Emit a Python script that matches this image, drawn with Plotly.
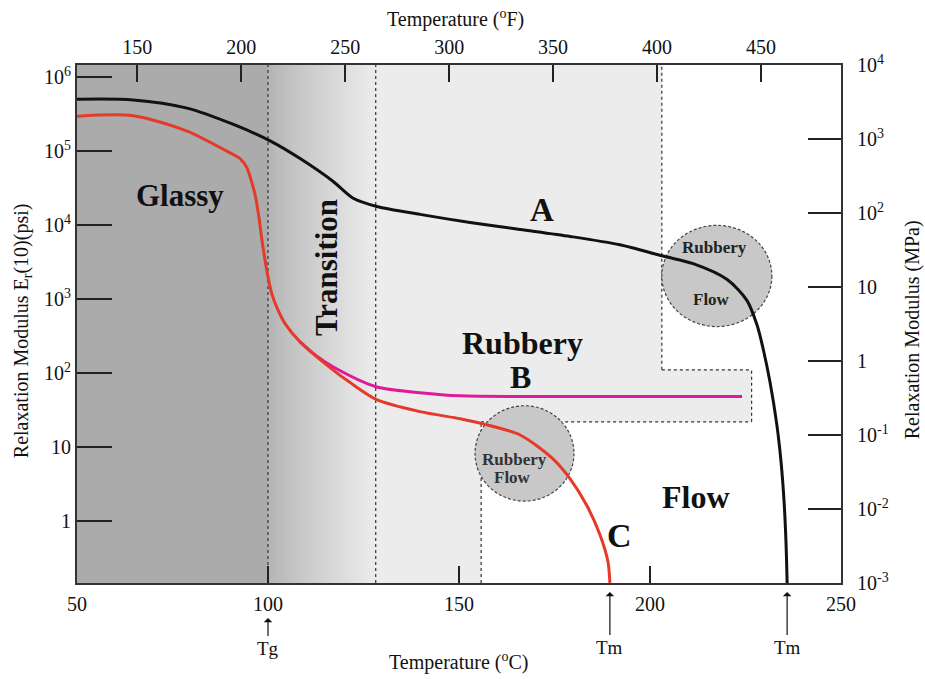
import plotly.graph_objects as go

# ---------------- data ----------------
# Curve A (black): temperature in °C, relaxation modulus in psi
temp_A = [50.0, 64.7, 78.8, 90.8, 100.8, 108.4, 117.0, 122.3, 128.5, 139.8, 152.9,
          166.0, 179.1, 192.1, 203.4, 211.3, 220.2, 225.4, 228.0, 229.6, 231.4, 233.2,
          234.3, 235.1, 235.6, 235.9]
mod_A = [5.0e5, 4.9e5, 3.8e5, 2.3e5, 1.35e5, 7.9e4, 3.9e4, 2.3e4, 1.78e4, 1.39e4, 1.08e4,
         8.7e3, 7.0e3, 5.4e3, 3.8e3, 3.0e3, 1.83e3, 950, 447, 214, 76, 20,
         6.3, 1.82, 0.52, 0.145]

# Curve B (magenta)
temp_B = [108.4, 112.8, 117.0, 128.3, 139.8, 150.3, 186.9, 224.1]
mod_B = [263, 168, 121, 65, 54, 49, 48, 48]

# Curve C (red)
temp_C = [50.0, 64.7, 78.8, 89.3, 92.7, 94.5, 95.8, 96.6, 97.6, 98.4, 99.2, 100.0, 101.0,
          102.6, 104.5, 108.4, 117.0, 121.5, 128.3, 139.8, 150.3, 156.3, 166.0, 174.6,
          179.1, 183.5, 186.9, 189.0, 189.5]
mod_C = [2.95e5, 3.0e5, 1.86e5, 9.9e4, 7.9e4, 5.9e4, 3.7e4, 2.6e4, 1.3e4, 6.3e3, 3.4e3,
         2.0e3, 1.17e3, 710, 460, 263, 110, 74, 44, 30, 24, 20.5, 14.5, 6.9,
         3.7, 1.6, 0.65, 0.28, 0.145]

# region boundaries (°C) and levels (psi)
tg_c = 100.0
transition_end_c = 128.2
rubbery_end_c = 203.1
rubbery_step_c = 226.6
lower_step_c = 155.8
step_hi_psi = 110
step_lo_psi = 21.8
tm_C = 189.5
tm_A = 235.9

x_ticks_c = [50, 100, 150, 200, 250]
x_ticks_f = [150, 200, 250, 300, 350, 400, 450]
y_ticks_psi = [1, 10, 100, 1e3, 1e4, 1e5, 1e6]
y_ticktext_psi = ["1", "10", "10<sup>2</sup>", "10<sup>3</sup>", "10<sup>4</sup>",
                  "10<sup>5</sup>", "10<sup>6</sup>"]
y_ticks_mpa = [1e-3, 1e-2, 1e-1, 1, 10, 100, 1e3, 1e4]
y_ticktext_mpa = ["10<sup>-3</sup>", "10<sup>-2</sup>", "10<sup>-1</sup>", "1", "10",
                  "10<sup>2</sup>", "10<sup>3</sup>", "10<sup>4</sup>"]

Y_TOP = 1.45e6
Y_BOT = 0.145
FONT = "Liberation Serif"

fig = go.Figure()

# ---------------- background regions (shapes, below traces) ----------------
shapes = []
# glassy
shapes.append(dict(type="rect", xref="x", yref="paper", x0=50, x1=tg_c, y0=0, y1=1,
                   fillcolor="#ababab", line=dict(width=0), layer="below"))
# transition gradient: stacked strips, each running to the end of the zone (no seams)
n = 70
for i in range(n):
    a = tg_c + (transition_end_c - tg_c) * i / n
    t = (i + 0.5) / n
    g = int(round(179 + (236 - 179) * t ** 0.85))
    shapes.append(dict(type="rect", xref="x", yref="paper", x0=a, x1=transition_end_c + 0.3,
                       y0=0, y1=1, fillcolor=f"rgb({g},{g},{g})", line=dict(width=0),
                       layer="below"))
# rubbery
rub = "#ececec"
shapes.append(dict(type="rect", xref="x", yref="paper", x0=transition_end_c, x1=lower_step_c,
                   y0=0, y1=1, fillcolor=rub, line=dict(width=0), layer="below"))
shapes.append(dict(type="rect", xref="x", yref="y", x0=lower_step_c - 0.2, x1=rubbery_end_c,
                   y0=step_lo_psi, y1=Y_TOP, fillcolor=rub, line=dict(width=0), layer="below"))
shapes.append(dict(type="rect", xref="x", yref="y", x0=rubbery_end_c - 0.2, x1=rubbery_step_c,
                   y0=step_lo_psi, y1=step_hi_psi, fillcolor=rub, line=dict(width=0), layer="below"))

dash_line = dict(color="#333333", width=1.2, dash="3px,3px")
shapes.append(dict(type="line", xref="x", yref="paper", x0=tg_c, x1=tg_c, y0=0, y1=1,
                   line=dash_line, layer="below"))
shapes.append(dict(type="line", xref="x", yref="paper", x0=transition_end_c, x1=transition_end_c,
                   y0=0, y1=1, line=dash_line, layer="below"))
shapes.append(dict(type="line", xref="x", yref="y", x0=rubbery_end_c, x1=rubbery_end_c,
                   y0=step_hi_psi, y1=Y_TOP, line=dash_line, layer="below"))
shapes.append(dict(type="line", xref="x", yref="y", x0=rubbery_end_c, x1=rubbery_step_c,
                   y0=step_hi_psi, y1=step_hi_psi, line=dash_line, layer="below"))
shapes.append(dict(type="line", xref="x", yref="y", x0=rubbery_step_c, x1=rubbery_step_c,
                   y0=step_lo_psi, y1=step_hi_psi, line=dash_line, layer="below"))
shapes.append(dict(type="line", xref="x", yref="y", x0=lower_step_c, x1=rubbery_step_c,
                   y0=step_lo_psi, y1=step_lo_psi, line=dash_line, layer="below"))
shapes.append(dict(type="line", xref="x", yref="y", x0=lower_step_c, x1=lower_step_c,
                   y0=Y_BOT, y1=step_lo_psi, line=dash_line, layer="below"))

# rubbery-flow ellipses
ell_line = dict(color="#444444", width=1.2, dash="3px,2px")
shapes.append(dict(type="circle", xref="x", yref="y", x0=203.1, x1=231.9, y0=423, y1=9886,
                   fillcolor="#c8c8c8", line=ell_line, layer="below"))
shapes.append(dict(type="circle", xref="x", yref="y", x0=154.2, x1=180.1, y0=1.85, y1=36,
                   fillcolor="#c8c8c8", line=ell_line, layer="below"))

# ---------------- curves ----------------
fig.add_trace(go.Scatter(x=temp_B, y=mod_B, mode="lines", hoverinfo="skip", showlegend=False,
                         line=dict(color="#e0199a", width=3, shape="spline", smoothing=0.8)))
fig.add_trace(go.Scatter(x=temp_C, y=mod_C, mode="lines", hoverinfo="skip", showlegend=False,
                         line=dict(color="#e53a2a", width=3, shape="spline", smoothing=0.8)))
fig.add_trace(go.Scatter(x=temp_A, y=mod_A, mode="lines", hoverinfo="skip", showlegend=False,
                         line=dict(color="#111111", width=3, shape="spline", smoothing=0.8)))
# carrier trace for secondary axes
fig.add_trace(go.Scatter(x=[300], y=[1], xaxis="x2", yaxis="y2", mode="markers",
                         marker=dict(opacity=0), hoverinfo="skip", showlegend=False))

# ---------------- annotations ----------------
ann = []
def label(text, x, y, size, xref="x", yref="paper", angle=0, color="#111111", bold=True):
    ann.append(dict(text=f"<b>{text}</b>" if bold else text, x=x, y=y, xref=xref, yref=yref,
                    xanchor="center", yanchor="middle",
                    showarrow=False, textangle=angle,
                    font=dict(family=FONT, size=size, color=color)))

label("Glassy", 77.0, 0.749, 31)
label("Transition", 115.2, 0.608, 31, angle=-90)
label("A", 171.7, 0.720, 33)
label("Rubbery", 166.5, 0.463, 32)
label("B", 166.0, 0.398, 32)
label("Flow", 212.0, 0.166, 32)
label("C", 192.1, 0.091, 34)
label("Rubbery", 217.0, 0.647, 17, color="#222222")
label("Flow", 216.0, 0.548, 17, color="#222222")
label("Rubbery", 164.4, 0.239, 17, color="#333333")
label("Flow", 164.1, 0.203, 17, color="#333333")

# axis titles
label("Temperature (<sup>o</sup>F)", 0.495, 1.089, 20, xref="paper", bold=False)
label("Temperature (<sup>o</sup>C)", 0.499, -0.1525, 20, xref="paper", bold=False)
label("Relaxation Modulus E<sub>r</sub>(10)(psi)", -0.072, 0.488, 20, xref="paper",
      angle=-90, bold=False)
label("Relaxation Modulus (MPa)", 1.093, 0.488, 20, xref="paper", angle=-90, bold=False)

# Tg / Tm markers
for xv, txt, yhead, ay in [(tg_c, "Tg", -0.0676, 30), (tm_C, "Tm", -0.0174, 55),
                           (tm_A, "Tm", -0.0174, 55)]:
    ann.append(dict(x=xv, y=yhead, xref="x", yref="paper", text=txt, showarrow=True,
                    ax=0, ay=ay, arrowhead=1, arrowsize=1.2, arrowwidth=1.2,
                    arrowcolor="#111111", font=dict(family=FONT, size=19, color="#111111")))

axis_common = dict(showgrid=False, zeroline=False, showline=True, linecolor="#333333",
                   linewidth=2, ticks="inside", tickcolor="#222222", tickwidth=1.5,
                   tickfont=dict(family=FONT, size=20, color="#111111"))

fig.update_layout(
    width=925, height=679,
    margin=dict(l=77, r=84, t=65, b=96),
    paper_bgcolor="white", plot_bgcolor="white",
    showlegend=False,
    shapes=shapes, annotations=ann,
    xaxis=dict(range=[50, 250], tickvals=x_ticks_c, ticklen=17, ticklabelstandoff=2,
               **axis_common),
    xaxis2=dict(range=[121.0, 488.5], tickvals=x_ticks_f, ticklen=17, overlaying="x",
                side="top", anchor="y", ticklabelstandoff=1, **axis_common),
    yaxis=dict(type="log", range=[-0.8396, 6.1624], tickvals=y_ticks_psi,
               ticktext=y_ticktext_psi, ticklen=35, ticklabelstandoff=0, **axis_common),
    yaxis2=dict(type="log", range=[-3.001, 4.001], tickvals=y_ticks_mpa,
                ticktext=y_ticktext_mpa, ticklen=33, overlaying="y", side="right",
                anchor="x", ticklabelstandoff=10, **axis_common),
)

fig.write_html("out.html")
